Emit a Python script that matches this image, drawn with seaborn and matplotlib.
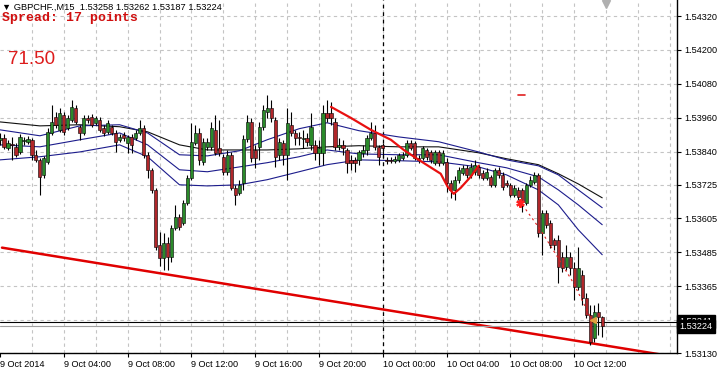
import matplotlib
matplotlib.use("Agg")
import matplotlib.pyplot as plt
import matplotlib.transforms as mtransforms
import seaborn as sns
import numpy as np
import pandas as pd

# ---------------- data (GBPCHF M15, 9-10 Oct 2014) ----------------
candle_idx = list(range(152))
opens = [1.53883,1.53890,1.53855,1.53869,1.53858,1.53840,1.53879,1.53876,1.53883,1.53830,
         1.53812,1.53759,1.53805,1.53907,1.53964,1.53918,1.53971,1.53925,1.53953,1.53996,
         1.53929,1.53907,1.53960,1.53964,1.53943,1.53953,1.53925,1.53911,1.53929,1.53907,
         1.53883,1.53900,1.53872,1.53893,1.53890,1.53907,1.53925,1.53830,1.53777,1.53706,
         1.53512,1.53466,1.53519,1.53470,1.53572,1.53611,1.53590,1.53660,1.53749,1.53872,
         1.53907,1.53805,1.53858,1.53858,1.53918,1.53855,1.53823,1.53770,1.53830,1.53713,
         1.53696,1.53731,1.53886,1.53946,1.53847,1.53858,1.53929,1.53982,1.53996,1.53953,
         1.53830,1.53872,1.53830,1.53936,1.53907,1.53893,1.53886,1.53890,1.53865,1.53865,
         1.53837,1.53837,1.53978,1.53978,1.53946,1.53858,1.53865,1.53847,1.53812,1.53812,
         1.53812,1.53837,1.53847,1.53890,1.53907,1.53858,1.53865,1.53812,1.53812,1.53809,
         1.53812,1.53819,1.53830,1.53872,1.53872,1.53819,1.53819,1.53847,1.53840,1.53802,
         1.53840,1.53802,1.53805,1.53731,1.53706,1.53742,1.53766,1.53784,1.53759,1.53770,
         1.53787,1.53766,1.53749,1.53752,1.53724,1.53777,1.53759,1.53731,1.53724,1.53689,
         1.53706,1.53706,1.53660,1.53724,1.53735,1.53759,1.53554,1.53625,1.53590,1.53530,
         1.53530,1.53470,1.53434,1.53470,1.53431,1.53364,1.53406,1.53325,1.53265,1.53184,
         1.53276,1.53258]
highs = [1.53907,1.53904,1.53883,1.53893,1.53872,1.53904,1.53893,1.53897,1.53890,1.53847,
         1.53819,1.53826,1.53925,1.54006,1.53982,1.53996,1.53982,1.53971,1.54024,1.54006,
         1.53936,1.53971,1.53971,1.53975,1.53968,1.53964,1.53936,1.53953,1.53936,1.53918,
         1.53904,1.53911,1.53900,1.53904,1.53918,1.53953,1.53936,1.53840,1.53784,1.53713,
         1.53558,1.53554,1.53540,1.53583,1.53653,1.53622,1.53671,1.53759,1.53943,1.53936,
         1.53925,1.53890,1.53890,1.53946,1.53971,1.53953,1.53833,1.53847,1.53840,1.53724,
         1.53742,1.53900,1.53971,1.53960,1.53865,1.53946,1.54006,1.54042,1.54024,1.53964,
         1.53890,1.53883,1.53996,1.53982,1.53918,1.53911,1.53918,1.53907,1.53978,1.53883,
         1.53883,1.54006,1.54024,1.54017,1.53960,1.53890,1.53883,1.53855,1.53830,1.53823,
         1.53847,1.53865,1.53900,1.53946,1.53936,1.53865,1.53872,1.53823,1.53823,1.53826,
         1.53837,1.53840,1.53883,1.53883,1.53879,1.53830,1.53862,1.53855,1.53847,1.53847,
         1.53847,1.53847,1.53819,1.53742,1.53756,1.53787,1.53795,1.53795,1.53802,1.53812,
         1.53795,1.53777,1.53784,1.53759,1.53784,1.53787,1.53770,1.53742,1.53731,1.53724,
         1.53717,1.53713,1.53731,1.53756,1.53770,1.53766,1.53636,1.53636,1.53600,1.53537,
         1.53547,1.53487,1.53512,1.53487,1.53452,1.53505,1.53424,1.53343,1.53300,1.53300,
         1.53307,1.53262]
lows = [1.53865,1.53851,1.53847,1.53812,1.53823,1.53833,1.53865,1.53869,1.53812,1.53805,
        1.53689,1.53749,1.53798,1.53900,1.53925,1.53911,1.53900,1.53918,1.53946,1.53939,
        1.53883,1.53900,1.53943,1.53929,1.53936,1.53911,1.53897,1.53904,1.53900,1.53840,
        1.53876,1.53879,1.53837,1.53837,1.53883,1.53900,1.53819,1.53749,1.53696,1.53494,
        1.53438,1.53424,1.53424,1.53452,1.53565,1.53565,1.53583,1.53653,1.53742,1.53865,
        1.53795,1.53795,1.53847,1.53847,1.53830,1.53826,1.53759,1.53759,1.53706,1.53653,
        1.53689,1.53706,1.53876,1.53805,1.53784,1.53812,1.53918,1.53960,1.53946,1.53787,
        1.53812,1.53795,1.53742,1.53897,1.53865,1.53865,1.53855,1.53862,1.53847,1.53812,
        1.53795,1.53795,1.53946,1.53936,1.53847,1.53847,1.53830,1.53766,1.53777,1.53770,
        1.53795,1.53823,1.53830,1.53883,1.53847,1.53795,1.53819,1.53798,1.53802,1.53802,
        1.53805,1.53812,1.53823,1.53847,1.53812,1.53802,1.53812,1.53812,1.53802,1.53795,
        1.53791,1.53795,1.53699,1.53678,1.53671,1.53731,1.53759,1.53749,1.53749,1.53759,
        1.53749,1.53742,1.53742,1.53717,1.53717,1.53749,1.53706,1.53717,1.53682,1.53682,
        1.53671,1.53629,1.53653,1.53717,1.53727,1.53540,1.53477,1.53572,1.53502,1.53494,
        1.53378,1.53417,1.53424,1.53406,1.53318,1.53353,1.53300,1.53254,1.53159,1.53170,
        1.53194,1.53187]
closes = [1.53890,1.53858,1.53872,1.53865,1.53830,1.53893,1.53883,1.53886,1.53830,1.53812,
          1.53752,1.53819,1.53911,1.53946,1.53936,1.53978,1.53911,1.53960,1.53999,1.53946,
          1.53907,1.53960,1.53953,1.53936,1.53960,1.53918,1.53907,1.53943,1.53907,1.53876,
          1.53893,1.53890,1.53893,1.53865,1.53907,1.53925,1.53830,1.53777,1.53706,1.53505,
          1.53466,1.53519,1.53470,1.53572,1.53611,1.53576,1.53660,1.53749,1.53876,1.53907,
          1.53812,1.53876,1.53876,1.53925,1.53837,1.53837,1.53770,1.53830,1.53713,1.53689,
          1.53724,1.53886,1.53946,1.53819,1.53819,1.53929,1.53989,1.53996,1.53960,1.53823,
          1.53876,1.53830,1.53943,1.53907,1.53890,1.53890,1.53890,1.53876,1.53929,1.53837,
          1.53855,1.53978,1.53960,1.53960,1.53858,1.53865,1.53855,1.53802,1.53802,1.53802,
          1.53840,1.53847,1.53890,1.53907,1.53858,1.53823,1.53855,1.53809,1.53809,1.53816,
          1.53830,1.53830,1.53872,1.53855,1.53819,1.53812,1.53855,1.53823,1.53812,1.53840,
          1.53802,1.53837,1.53731,1.53706,1.53742,1.53777,1.53784,1.53759,1.53787,1.53795,
          1.53759,1.53749,1.53770,1.53724,1.53777,1.53759,1.53717,1.53724,1.53689,1.53713,
          1.53682,1.53664,1.53724,1.53742,1.53759,1.53554,1.53625,1.53583,1.53512,1.53512,
          1.53434,1.53431,1.53470,1.53431,1.53364,1.53431,1.53325,1.53265,1.53170,1.53276,
          1.53258,1.53224]

# moving-average style lines (sampled at candle positions)
ma_idx = [0, 10, 20, 30, 37, 45, 52, 60, 67, 75, 82, 90, 100, 110, 120, 127, 135, 140, 145, 151]
ma_black = [1.53946,1.53932,1.53936,1.53929,1.53911,1.53865,1.53847,1.53847,1.53847,1.53851,
            1.53858,1.53862,1.53858,1.53858,1.53837,1.53816,1.53795,1.53763,1.53727,1.53678]
ma_blue1 = [1.53918,1.53897,1.53932,1.53936,1.53907,1.53830,1.53826,1.53844,1.53883,1.53922,
            1.53943,1.53915,1.53893,1.53876,1.53840,1.53812,1.53791,1.53759,1.53706,1.53643]
ma_blue2 = [1.53865,1.53858,1.53883,1.53907,1.53865,1.53777,1.53770,1.53787,1.53802,1.53823,
            1.53847,1.53833,1.53830,1.53830,1.53802,1.53784,1.53752,1.53706,1.53653,1.53583]
ma_blue3 = [1.53812,1.53823,1.53840,1.53865,1.53823,1.53724,1.53720,1.53724,1.53742,1.53770,
            1.53795,1.53812,1.53809,1.53805,1.53787,1.53759,1.53706,1.53653,1.53565,1.53477]

# thick red indicator curve
red_idx = [83, 88, 93, 98, 101.25, 105, 110.5, 112.25, 113.75, 115.5, 118, 120]
red_val = [1.53999,1.53960,1.53918,1.53883,1.53847,1.53812,1.53763,1.53717,1.53692,1.53713,1.53752,1.53791]

# dashed red projection
dash_idx = [131, 135.5, 139.75, 143.75, 148]
dash_val = [1.53653, 1.53565, 1.53470, 1.53378, 1.53258]

# red trendline
trend_idx = [0.5, 166]
trend_val = [1.53502, 1.53124]

ask_price = 1.53241
bid_price = 1.53224

y_ticks = [1.54320, 1.54200, 1.54080, 1.53960, 1.53840, 1.53725, 1.53605, 1.53485, 1.53365, 1.53130]
y_ticklabels = ["1.54320", "1.54200", "1.54080", "1.53960", "1.53840", "1.53725",
                "1.53605", "1.53485", "1.53365", "1.53130"]
x_tick_idx = [0, 16, 32, 48, 64, 80, 96, 112, 128, 144]
x_ticklabels = ["9 Oct 2014", "9 Oct 04:00", "9 Oct 08:00", "9 Oct 12:00", "9 Oct 16:00",
                "9 Oct 20:00", "10 Oct 00:00", "10 Oct 04:00", "10 Oct 08:00", "10 Oct 12:00"]

# ---------------- drawing ----------------
sns.set_style("white")
plt.rcParams['font.family'] = ['Liberation Sans', 'DejaVu Sans']

W, H = 718, 372
fig = plt.figure(figsize=(W / 100, H / 100), dpi=100)
ax = fig.add_axes([0, 19 / H, 677 / W, 353 / H])
ax.set_xlim(0.5, 169.75)
ax.set_ylim(1.531308, 1.543765)

grid_kw = dict(color="#c4c4c4", lw=0.8, ls=(0, (3, 3)), zorder=0)
for gi in range(8, 170, 8):
    ax.axvline(gi, **grid_kw)
for yt in y_ticks + [1.53245]:
    ax.axhline(yt, **grid_kw)

# day separator
ax.axvline(96, color="black", lw=0.9, ls=(0, (3, 3)), zorder=1)

# trendline
sns.lineplot(x=trend_idx, y=trend_val, color="#e00000", lw=1.8, ax=ax, zorder=2)

# moving averages
ma_df = pd.DataFrame({"idx": ma_idx * 4,
                      "val": ma_black + ma_blue1 + ma_blue2 + ma_blue3,
                      "line": ["k"] * 20 + ["b1"] * 20 + ["b2"] * 20 + ["b3"] * 20})
sns.lineplot(data=ma_df, x="idx", y="val", hue="line",
             palette={"k": "#101010", "b1": "#1c1c8c", "b2": "#1c1c8c", "b3": "#1c1c8c"},
             lw=0.8, legend=False, ax=ax, zorder=3, estimator=None, sort=False)

# candles
o = np.array(opens); h = np.array(highs); l = np.array(lows); c = np.array(closes)
idx = np.array(candle_idx)
ax.vlines(idx, l, h, color="black", lw=0.8, zorder=4)
cols = np.where(c >= o, "#2a8a2a", "#b0262a")
body = np.where(np.abs(c - o) < 0.00002, 0.00002 * np.sign(c - o + 1e-12), c - o)
ax.bar(idx, body, bottom=o, width=0.8, color=cols, edgecolor="black", lw=0.4, zorder=5)

# red indicator curve
sns.lineplot(x=red_idx, y=red_val, color="#e81010", lw=1.6, ax=ax, zorder=6)
sns.lineplot(x=dash_idx, y=dash_val, color="#e02020", lw=0.8, ls=(0, (2, 3)), ax=ax, zorder=6)
ax.plot([130.5], [1.53660], marker=(6, 2, 0), color="#ff2020", ms=6, mew=1.6, zorder=7)
ax.plot([148.6], [1.53247], marker="<", color="#e0a040", ms=5, zorder=7)
ax.plot([129.9, 131.6], [1.54042, 1.54042], color="#e02020", lw=1.2, zorder=7)

# price lines
ax.axhline(ask_price, color="black", lw=0.8, zorder=3)
ax.axhline(bid_price, color="#a0a0a0", lw=0.8, zorder=3)

# chart shift marker
ax.plot([152], [1.54362], marker="v", color="#b0b0b0", ms=6, zorder=7, clip_on=False)

# axes styling
for s in ["top", "left"]:
    ax.spines[s].set_visible(False)
for s in ["right", "bottom"]:
    ax.spines[s].set_color("black")
    ax.spines[s].set_linewidth(1.0)

ax.yaxis.tick_right()
ax.set_yticks(y_ticks)
ax.set_yticklabels(y_ticklabels)
ax.tick_params(axis="y", which="both", right=True, left=False, length=3, width=0.8,
               pad=2, labelsize=6.6, colors="black")
ax.set_xticks(x_tick_idx)
ax.set_xticklabels(x_ticklabels)
ax.tick_params(axis="x", bottom=True, length=3, width=0.8, pad=2, labelsize=6.6, colors="black")
for lab in ax.get_xticklabels():
    lab.set_horizontalalignment("left")
ax.set_xlabel("")
ax.set_ylabel("")

# price boxes on right axis
trans = mtransforms.blended_transform_factory(ax.transAxes, ax.transData)
for pr, txt in [(ask_price, "1.53241"), (bid_price, "1.53224")]:
    ax.text(1.004, pr, txt, transform=trans, ha="left", va="center", fontsize=6.6,
            color="white", clip_on=False, zorder=10,
            bbox=dict(boxstyle="square,pad=0.25", fc="black", ec="black"))

# header texts
fig.text(2 / W, 1 - 7 / H, "\u25bc GBPCHF.,M15  1.53258 1.53262 1.53187 1.53224",
         fontsize=6.7, color="black", va="center", ha="left",
         family=["DejaVu Sans"] if False else ["Liberation Sans", "DejaVu Sans"])
fig.text(2 / W, 1 - 18 / H, "Spread: 17 points", fontsize=9.5, color="#d01010",
         fontweight="bold", family=["Liberation Mono", "DejaVu Sans Mono"], va="center", ha="left")
fig.text(8 / W, 1 - 60 / H, "71.50", fontsize=13.5, color="#dd1c1c", va="center", ha="left")

fig.savefig("out.png", dpi=100)
